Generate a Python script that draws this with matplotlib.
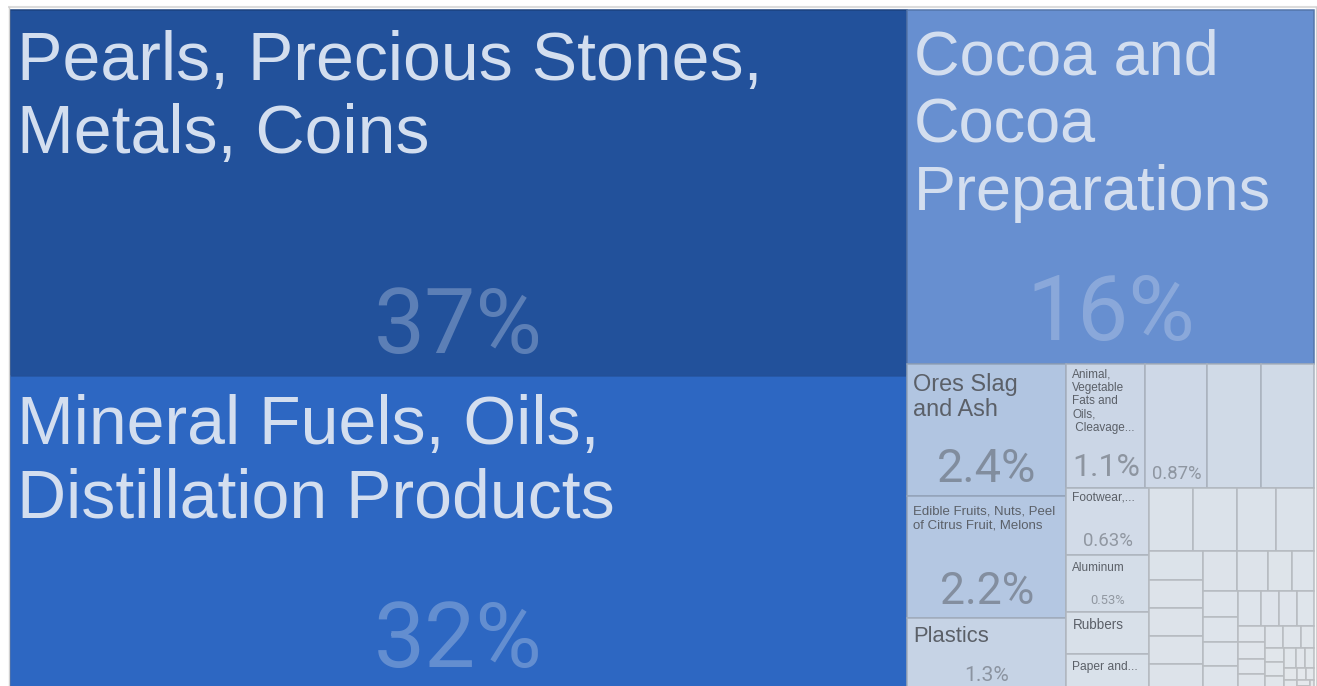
import numpy as np
import matplotlib
matplotlib.use("Agg")
import matplotlib.pyplot as plt
from matplotlib.patches import Rectangle
from matplotlib.colors import to_rgb

# ---------------- data ----------------
shares = [37.0, 31.7, 16.2, 2.38, 2.18, 1.29, 1.1, 0.87, 0.75, 0.74,
          0.63, 0.53, 0.39, 0.34, 0.31, 0.31, 0.28, 0.27,
          0.175, 0.17, 0.17, 0.165, 0.16,
          0.155, 0.138, 0.112, 0.098,
          0.10, 0.098, 0.095, 0.092,
          0.09, 0.072, 0.07, 0.066,
          0.05, 0.049, 0.048, 0.047,
          0.046, 0.044, 0.033,
          0.031, 0.03, 0.029,
          0.028, 0.022, 0.02, 0.018, 0.015, 0.012, 0.01, 0.008, 0.006, 0.005]

labels = ["Pearls, Precious Stones,\nMetals, Coins",
          "Mineral Fuels, Oils,\nDistillation Products",
          "Cocoa and\nCocoa\nPreparations",
          "Ores Slag\nand Ash",
          "Edible Fruits, Nuts, Peel\nof Citrus Fruit, Melons",
          "Plastics",
          "Animal,\nVegetable\nFats and\nOils,\n Cleavage...",
          "", "", "",
          "Footwear,...",
          "Aluminum",
          "Rubbers",
          "Paper and..."]

show_pct = [True, True, True, True, True, True, True, True, False, False,
            True, True, False, False]

# ---------------- style ----------------
label_px = [68, 68, 63, 23.5, 13.2, 22, 11.8, 0, 0, 0, 12, 11.8, 13.5, 12]
pct_px = [91, 91, 91, 47, 44.5, 21, 32, 18.5, 0, 0, 18.7, 13, 0, 0]
label_pad = [7, 7, 7, 6, 6, 6, 6, 0, 0, 0, 6, 6, 6, 6]
label_top = [1.03, 1.0, 1.03, 1.15, 1.38, 1.1, 1.2, 0, 0, 0, 1.1, 1.35, 1.25, 1.35]
line_h = [1.07, 1.08, 1.07, 1.08, 1.06, 1.1, 1.12, 1, 1, 1, 1.1, 1.1, 1.1, 1.1]

anchor_vals = [0.005, 0.3, 1.1, 2.4, 16, 32, 37]
anchor_cols = ['#e6e9ec', '#dbe2ea', '#cbd6e6', '#b1c5e1', '#6890d0', '#2c66c2', '#22519b']

W_PX, H_PX = 1317, 686
BOX = (10, 10, 1314, 690)
PHI = (1 + 5 ** 0.5) / 2
LABEL_FONT = ['Liberation Sans', 'DejaVu Sans']
PCT_FONT = ['Roboto', 'DejaVu Sans']


def squarify(values, x0, y0, x1, y1, ratio=PHI):
    """d3.treemapSquarify layout"""
    n = len(values)
    rects = [None] * n
    value = float(sum(values))
    i0 = i1 = 0
    while i0 < n:
        dx, dy = x1 - x0, y1 - y0
        sumv = values[i1]
        i1 += 1
        minv = maxv = sumv
        alpha = max(dy / dx, dx / dy) / (value * ratio)
        beta = sumv * sumv * alpha
        minratio = max(maxv / beta, beta / minv)
        while i1 < n:
            nv = values[i1]
            s = sumv + nv
            mn, mx = min(minv, nv), max(maxv, nv)
            beta = s * s * alpha
            nr = max(mx / beta, beta / mn)
            if nr > minratio:
                break
            sumv, minv, maxv, minratio = s, mn, mx, nr
            i1 += 1
        if dx < dy:
            yb = y0 + dy * sumv / value
            xx = x0
            for i in range(i0, i1):
                w = dx * values[i] / sumv
                rects[i] = (xx, y0, xx + w, yb)
                xx += w
            y0 = yb
        else:
            xb = x0 + dx * sumv / value
            yy = y0
            for i in range(i0, i1):
                h = dy * values[i] / sumv
                rects[i] = (x0, yy, xb, yy + h)
                yy += h
            x0 = xb
        value -= sumv
        i0 = i1
    return rects


def color_for(v):
    lv = np.log10(v)
    la = np.log10(anchor_vals)
    rgbs = np.array([to_rgb(c) for c in anchor_cols])
    return tuple(np.interp(lv, la, rgbs[:, k]) for k in range(3))


def fmt_pct(v):
    if v >= 10:
        return f"{v:.0f}%"
    if v >= 1:
        return f"{v:.1f}%"
    return f"{v:.2g}%"


PX = 72.0 / 100.0  # px -> pt

fig = plt.figure(figsize=(W_PX / 100, H_PX / 100), dpi=100)
ax = fig.add_axes([0, 0, 1, 1])
ax.set_xlim(0, W_PX)
ax.set_ylim(H_PX, 0)
ax.axis('off')

# frame lines
ax.plot([8, W_PX], [7, 7], color='#dcdcdc', lw=1.5, solid_capstyle='butt')
ax.plot([9, 9], [7, H_PX], color='#d0d0d0', lw=1.0)
ax.plot([1315.5, 1315.5], [7, H_PX], color='#d0d0d0', lw=1.0)

rects = squarify(shares, *BOX)

for i, (v, r) in enumerate(zip(shares, rects)):
    x0, y0, x1, y1 = r
    fc = color_for(v)
    ec = tuple(c * 0.82 for c in fc)
    ax.add_patch(Rectangle((x0, y0), x1 - x0, y1 - y0, facecolor=fc,
                           edgecolor=ec, lw=1.1))

for i in range(len(labels)):
    x0, y0, x1, y1 = rects[i]
    dark = i < 3
    tcol = '#d3deef' if dark else '#5b6068'
    if labels[i] and label_px[i] > 0:
        em = label_px[i]
        for j, line in enumerate(labels[i].split('\n')):
            yb = y0 + label_top[i] * em + j * line_h[i] * em
            ax.text(x0 + label_pad[i], yb, line, fontsize=em * PX,
                    family=LABEL_FONT, color=tcol, va='baseline', ha='left')
    if show_pct[i] and pct_px[i] > 0:
        em = pct_px[i]
        ax.text((x0 + x1) / 2, y1 - (0.2 * em + 5), fmt_pct(shares[i]),
                fontsize=em * PX, family=PCT_FONT, color=tcol,
                alpha=0.33 if dark else 0.55, va='baseline', ha='center')

fig.savefig('out.png', dpi=100)
